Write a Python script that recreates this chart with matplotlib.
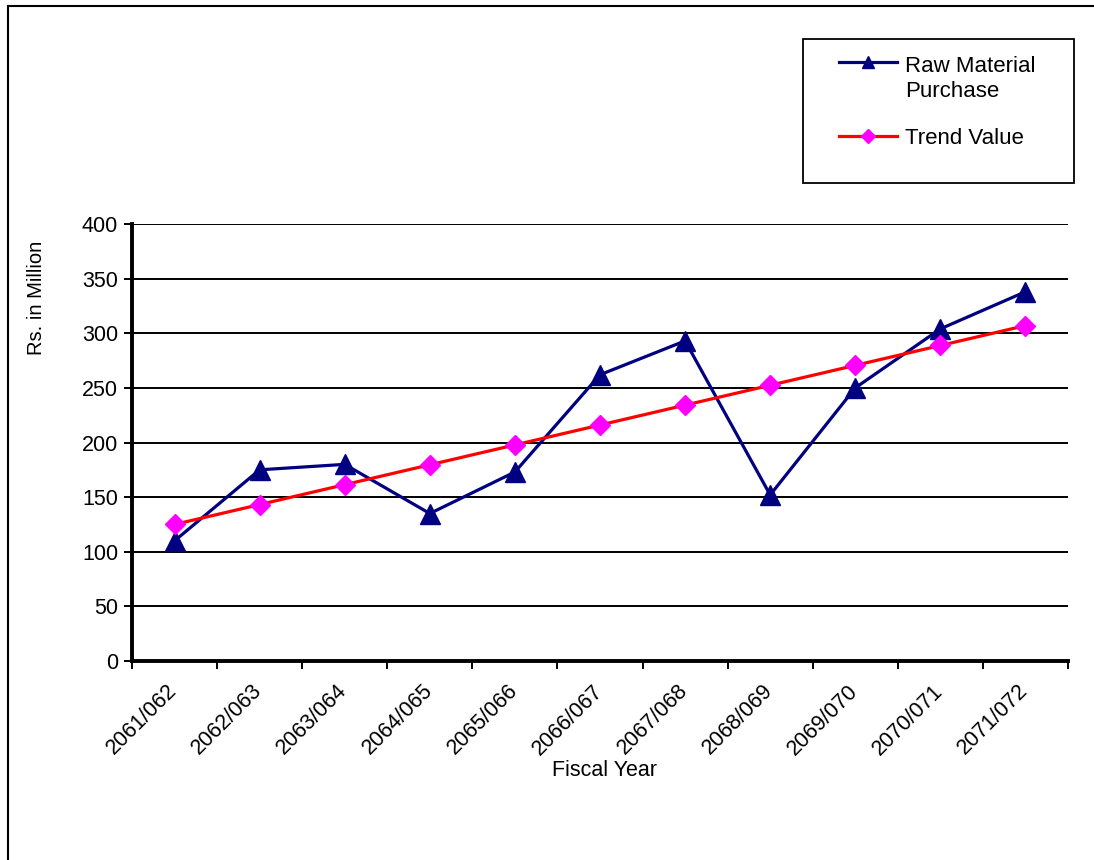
import matplotlib.pyplot as plt
from matplotlib.patches import Rectangle
from matplotlib.lines import Line2D
from matplotlib.transforms import ScaledTranslation

years = ['2061/062', '2062/063', '2063/064', '2064/065', '2065/066', '2066/067',
         '2067/068', '2068/069', '2069/070', '2070/071', '2071/072']
raw_purchase = [110, 175, 180, 135, 173, 262, 293, 152, 250, 304, 338]
trend_value = [125, 143.2, 161.4, 179.6, 197.8, 216, 234.2, 252.4, 270.6, 288.8, 307]

plt.rcParams['font.family'] = ['Liberation Sans', 'DejaVu Sans']

navy = '#000080'
red = '#ff0000'
magenta = '#ff00ff'

fig = plt.figure(figsize=(10.94, 8.6), dpi=100)
W, H = 1094, 860
ax = fig.add_axes([132 / W, 1 - 661 / H, (1068 - 132) / W, (661 - 224) / H])

x = list(range(1, len(years) + 1))
ax.plot(x, raw_purchase, color=navy, lw=2.3, marker='^', ms=14,
        markerfacecolor=navy, markeredgecolor=navy, zorder=3)
ax.plot(x, trend_value, color=red, lw=2.3, marker='D', ms=10.5,
        markerfacecolor=magenta, markeredgecolor=magenta, zorder=4)

ax.set_xlim(0.5, len(years) + 0.5)
ax.set_ylim(0, 400)
ax.set_yticks(range(0, 401, 50))
ax.yaxis.grid(True, color='black', lw=1.4)
ax.set_axisbelow(True)

# category ticks sit between the categories, labels at the centres
ax.set_xticks([i + 0.5 for i in range(0, len(years) + 1)])
ax.set_xticklabels([])
ax.set_xticks(x, minor=True)
ax.set_xticklabels(years, minor=True, rotation=45, ha='right', va='top',
                   rotation_mode='anchor', fontsize=15.5)
ax.tick_params(axis='x', which='minor', length=0, pad=14)
ax.tick_params(axis='x', which='major', length=6, width=1.4, direction='out')
ax.tick_params(axis='y', length=6, width=1.4, labelsize=15.5, pad=4)
for lbl in ax.get_xticklabels(minor=True):
    lbl.set_transform(lbl.get_transform() +
                      ScaledTranslation(-8 / 100, 0, fig.dpi_scale_trans))

for s in ['top', 'right']:
    ax.spines[s].set_visible(False)
for s in ['left', 'bottom']:
    ax.spines[s].set_linewidth(2.8)

fig.text(605 / W, 1 - 770 / H, 'Fiscal Year', fontsize=15.5,
         ha='center', va='center')
fig.text(37 / W, 1 - 298 / H, 'Rs. in Million', rotation=90, fontsize=14.5,
         ha='center', va='center')

# legend box drawn like the original (handle aligned with first text line)
fig.patches.append(Rectangle((803 / W, 1 - 183 / H), (1074 - 803) / W, 144 / H,
                             transform=fig.transFigure, fill=False,
                             edgecolor='black', lw=1.3))
leg_items = [('Raw Material\nPurchase', 62, 72, navy, navy, '^', 9),
             ('Trend Value', 136, 144, red, magenta, 'D', 7.5)]
for label, hy, ty, lc, mc, mk, ms in leg_items:
    fig.add_artist(Line2D([839 / W, 897 / W], [1 - hy / H, 1 - hy / H],
                          transform=fig.transFigure, color=lc, lw=2.3))
    fig.add_artist(Line2D([868 / W], [1 - hy / H], transform=fig.transFigure,
                          marker=mk, ms=ms, color=mc, lw=0))
    lines = label.split('\n')
    for k, line in enumerate(lines):
        fig.text(905 / W, 1 - (ty + 25 * k) / H, line, fontsize=16,
                 ha='left', va='baseline')

# outer chart border (runs off the right and bottom edges)
fig.patches.append(Rectangle((7.5 / W, -0.01), 1.0, 1 - 6 / H + 0.01,
                             transform=fig.transFigure, fill=False,
                             edgecolor='black', lw=1.5))

fig.savefig('out.png', dpi=100)
